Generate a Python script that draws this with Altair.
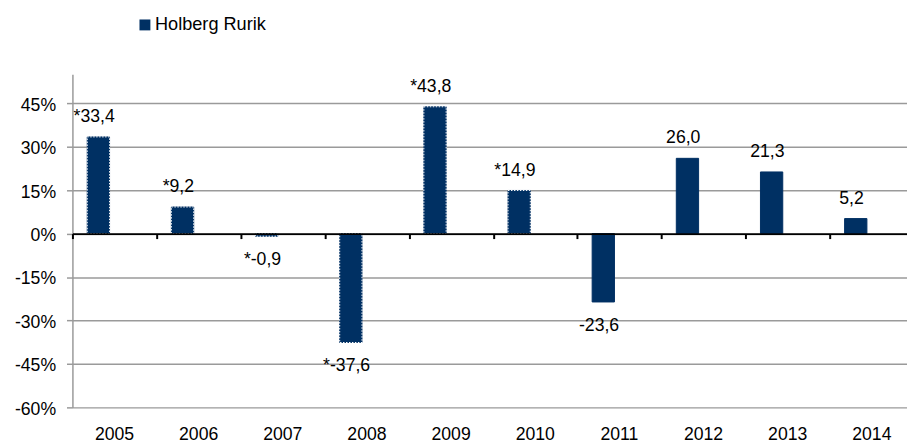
import altair as alt
import pandas as pd

years = ["2005", "2006", "2007", "2008", "2009", "2010", "2011", "2012", "2013", "2014"]
returns = [33.4, 9.2, -0.9, -37.6, 43.8, 14.9, -23.6, 26.0, 21.3, 5.2]
estimated = [True, True, True, True, True, True, False, False, False, False]
series_name = "Holberg Rurik"
y_ticks = [-60, -45, -30, -15, 0, 15, 30, 45]

labels = [("*" if e else "") + f"{v:.1f}".replace(".", ",") for v, e in zip(returns, estimated)]
df = pd.DataFrame({"year": years, "ret": returns, "label": labels,
                   "est": estimated, "series": [series_name] * len(years)})

NAVY = "#003063"
GRID = "#9a9a9a"
FONT = "Liberation Sans"
FS = 17.8
W, H = 842, 336
Y_MIN, Y_MAX = -60, 55
zero_px = H * Y_MAX / (Y_MAX - Y_MIN)
tick_axis_offset = -(H - zero_px)

x_scale = alt.Scale(domain=years, range=[0, 849], paddingInner=0, paddingOuter=0)
y_scale = alt.Scale(domain=[Y_MIN, Y_MAX], nice=False, zero=False)

base = alt.Chart(df)

bars = base.mark_bar(size=22.5, xOffset=-16.25, stroke=NAVY, strokeWidth=1).encode(
    x=alt.X("year:N", scale=x_scale,
            axis=alt.Axis(orient="bottom", offset=tick_axis_offset, domain=True,
                          domainColor="black", domainWidth=2, ticks=True,
                          tickColor="black", tickWidth=2, tickSize=5,
                          tickBand="extent", labels=False, grid=False,
                          title=None, zindex=1)),
    y=alt.Y("ret:Q", scale=y_scale,
            axis=alt.Axis(values=y_ticks, labelExpr="datum.value + '%'",
                          domain=True, domainColor=GRID, domainWidth=1.5,
                          ticks=True, tickColor=GRID, tickSize=6, tickWidth=1.5,
                          grid=True, gridColor=GRID, gridWidth=1.5,
                          labelFont=FONT, labelFontSize=FS, labelColor="black",
                          labelPadding=11, labelOffset=2, title=None)),
    color=alt.Color("series:N", scale=alt.Scale(range=[NAVY]),
                    legend=alt.Legend(orient="none", legendX=64, legendY=-59,
                                      title=None, symbolType="square",
                                      symbolSize=121, symbolStrokeWidth=0,
                                      labelFont=FONT, labelFontSize=18.3,
                                      labelColor="black", labelOffset=1,
                                      padding=0)),
)

dots = base.transform_filter("datum.est").mark_bar(
    size=22.5, xOffset=-16.25, fillOpacity=0, stroke="white",
    strokeDash=[1.5, 1.5], strokeWidth=1).encode(
    x=alt.X("year:N", scale=x_scale, axis=None),
    y=alt.Y("ret:Q", scale=y_scale, axis=None),
)

pos_text = base.transform_filter("datum.ret >= 0").mark_text(
    font=FONT, fontSize=FS, color="black", dx=-20.5, dy=-15,
    baseline="alphabetic", align="center").encode(
    x=alt.X("year:N", scale=x_scale,
            axis=alt.Axis(orient="bottom", offset=0, domain=False, ticks=False,
                          tickSize=0, labels=True, labelFont=FONT,
                          labelFontSize=FS, labelColor="black",
                          labelBaseline="alphabetic", labelPadding=32.7,
                          labelAngle=0, grid=False, title=None)),
    y=alt.Y("ret:Q", scale=y_scale, axis=None),
    text="label:N",
)

neg_text = base.transform_filter("datum.ret < 0").mark_text(
    font=FONT, fontSize=FS, color="black", dx=-20.5, dy=29,
    baseline="alphabetic", align="center").encode(
    x=alt.X("year:N", scale=x_scale, axis=None),
    y=alt.Y("ret:Q", scale=y_scale, axis=None),
    text="label:N",
)

chart = alt.layer(bars, dots, pos_text, neg_text).resolve_axis(
    x="independent", y="independent"
).properties(
    width=W, height=H, autosize="none",
    padding={"left": 65, "top": 65, "right": 0, "bottom": 34},
    background="white",
).configure_view(stroke=None)

chart.save("out.html", embed_options={"renderer": "svg", "actions": False})
